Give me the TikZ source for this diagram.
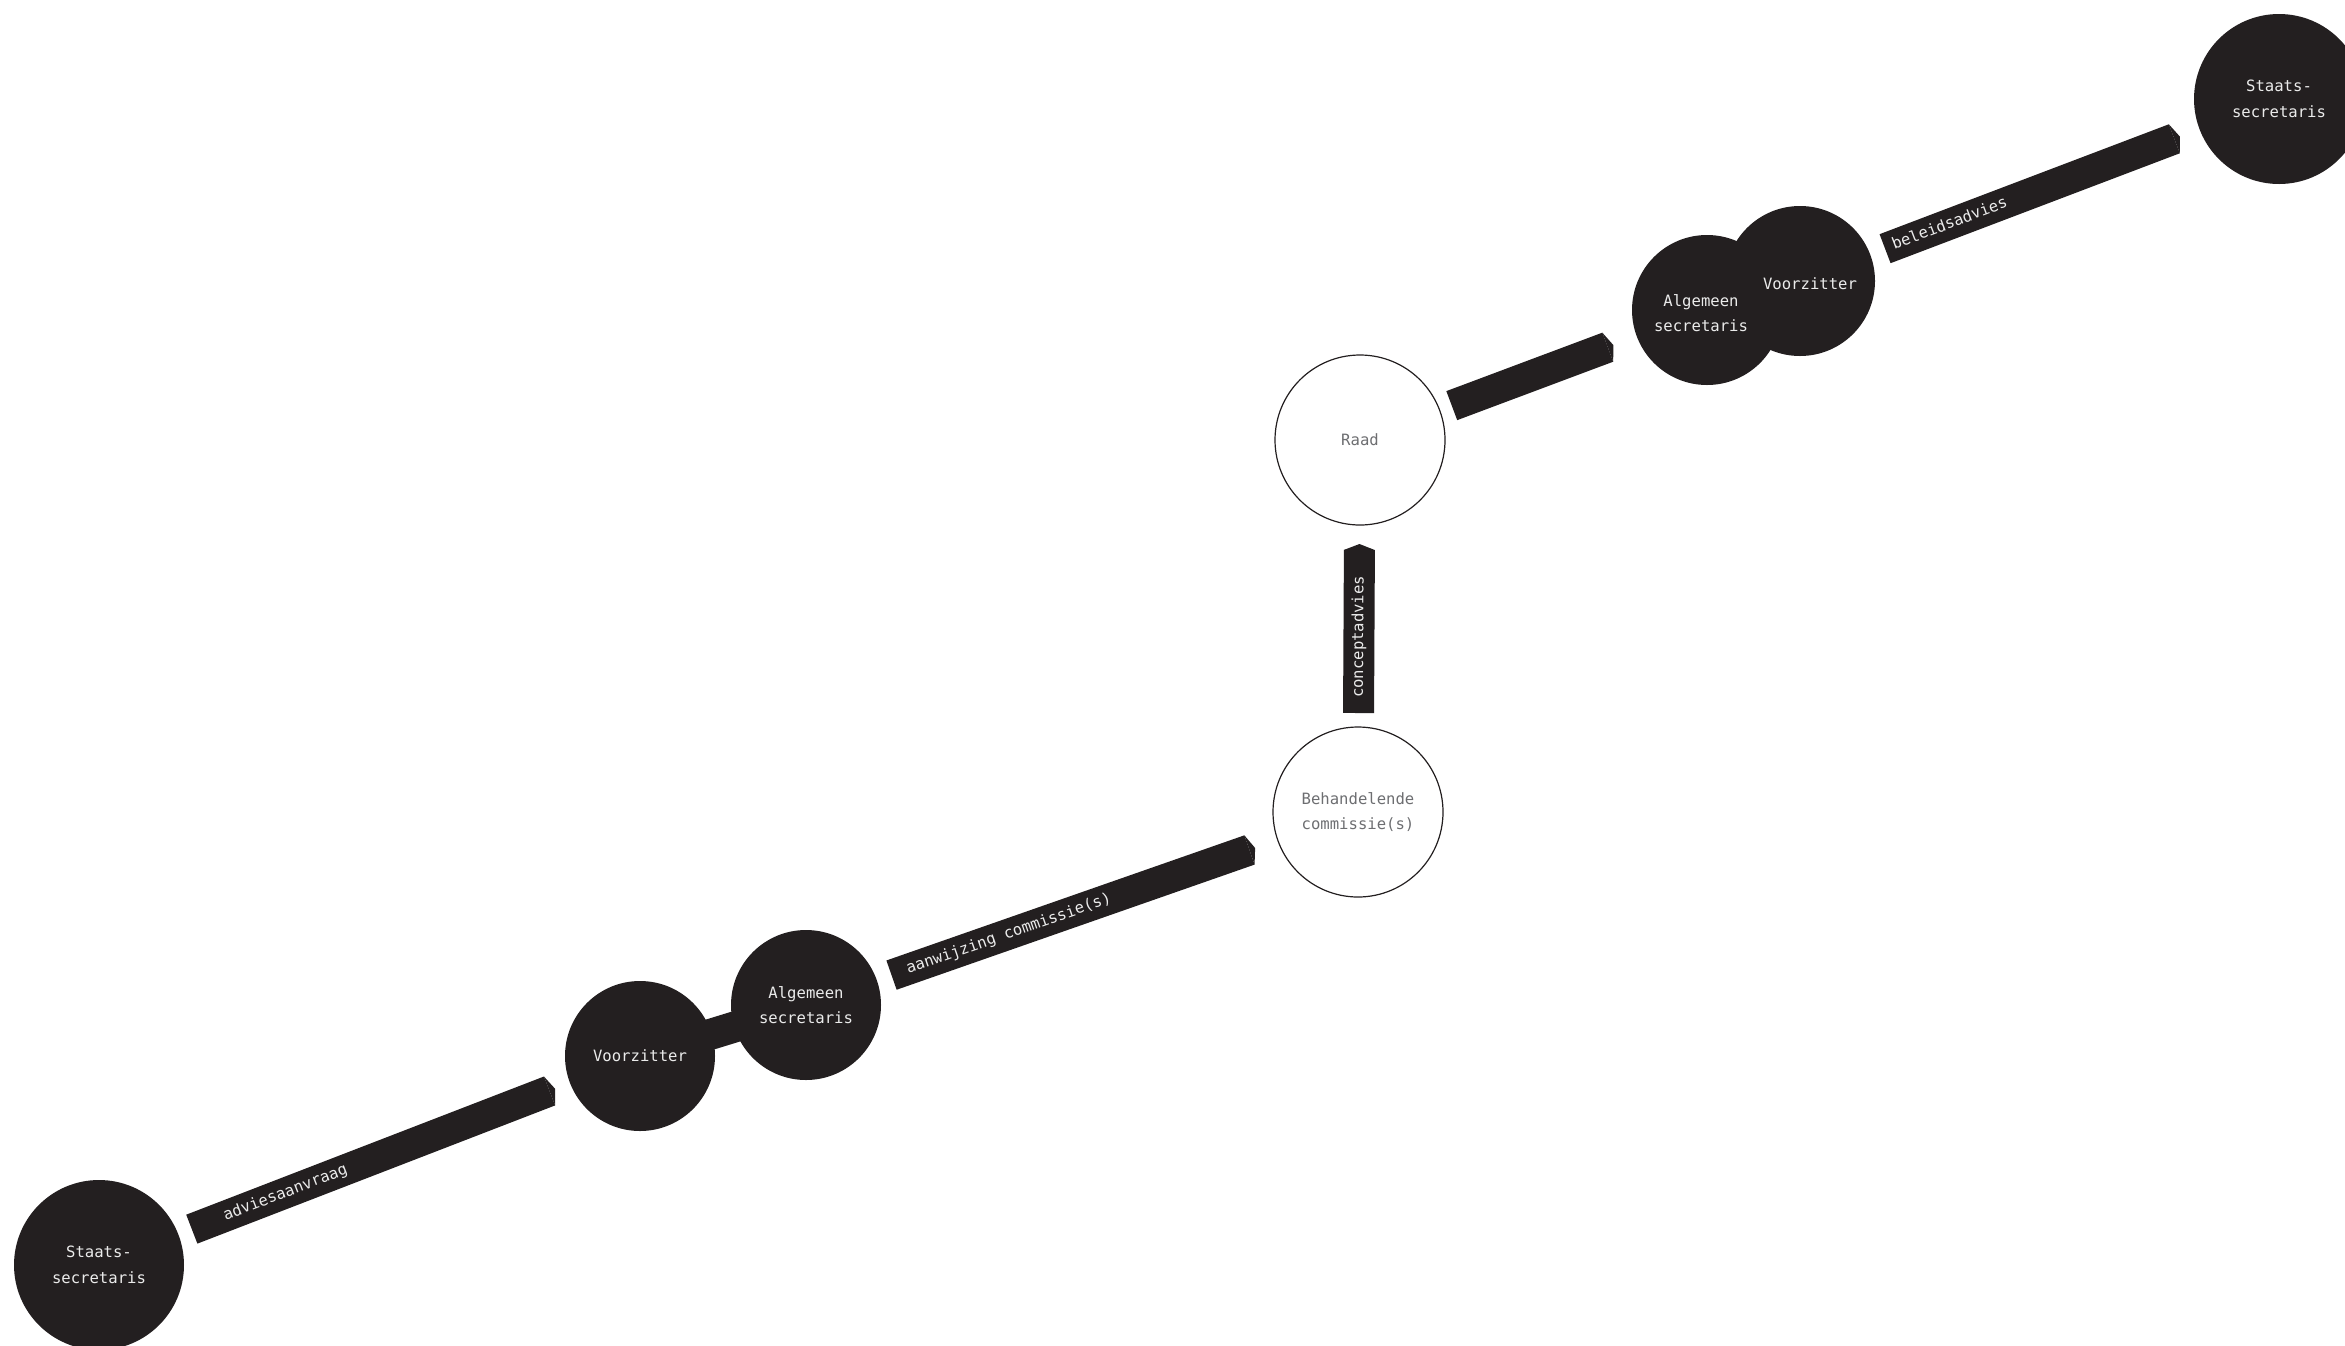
\documentclass[tikz,border=0pt]{standalone}
\usepackage{fontspec}
\setmonofont{DejaVu Sans Mono}
\usepackage{xcolor}
\usepackage{tikz}
\usetikzlibrary{arrows.meta}
\definecolor{inkblack}{HTML}{231F20}
\definecolor{labelgray}{HTML}{6D6E71}

\begin{document}
\begin{tikzpicture}[x=0.5pt,y=-0.5pt,
  every node/.style={font=\ttfamily\fontsize{7.8}{12.7}\selectfont, align=center, inner sep=0pt, outer sep=0pt},
  dark/.style={circle, fill=inkblack, text=white!92!black, minimum size=#1},
  dark/.default=75pt,
  open/.style={circle, draw=inkblack, line width=0.6pt, text=labelgray, minimum size=85pt},
  band/.style={draw=inkblack, line width=15.5pt, -{Triangle[length=3pt, width=15.5pt, line width=0pt]}},
  link/.style={draw=inkblack, line width=15.5pt, shorten <=-4pt, shorten >=-4pt},
  tag/.style={sloped, anchor=mid west, text=white!92!black}]
\useasboundingbox (0,0) rectangle (2345,1345);
% Points
\node[dark=85pt] (sl) at (99,1265) {Staats-\\secretaris};
\node[dark] (vl) at (640,1056) {Voorzitter};
\node[dark] (al) at (806,1005) {Algemeen\\secretaris};
\node[open] (bc) at (1358,812) {Behandelende\\commissie(s)};
\node[open] (raad) at (1360,440) {Raad};
\node[dark] (ar) at (1707,310) {};
\node[dark] (vr) at (1800,281) {};
\node[dark=85pt] (sr) at (2279,99) {Staats-\\secretaris};
\node[text=white!92!black] (artxt) at (1701,313) {Algemeen\\secretaris};
\node[text=white!92!black] (vrtxt) at (1810,284) {Voorzitter};

%Lines
\draw[band, shorten <=7.25pt, shorten >=8pt] (sl) -- node[tag, pos=0.117] {adviesaanvraag} (vl);
\draw[link] (vl) -- (al);
\draw[band, shorten <=7.8pt, shorten >=12pt] (al) -- node[tag, pos=0.075] {aanwijzing commissie(s)} (bc);
\draw[band, shorten <=7pt, shorten >=9.5pt] (bc) -- node[tag, pos=0.144] {conceptadvies} (raad);
\draw[band, shorten <=6.5pt, shorten >=12.5pt] (raad) -- (ar);
\draw[band, shorten <=8pt, shorten >=10.5pt] (vr) -- node[tag, pos=0.069] {beleidsadvies} (sr);
\end{tikzpicture}
\end{document}
